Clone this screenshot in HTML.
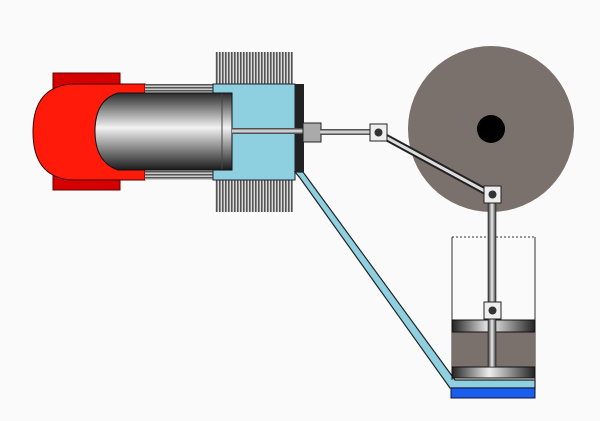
<!DOCTYPE html>
<html><head><style>html,body{margin:0;padding:0;background:#fafafa}svg{display:block}</style></head>
<body>
<svg width="600" height="421" viewBox="0 0 600 421" xmlns="http://www.w3.org/2000/svg">
<defs>
<linearGradient id="cyl" x1="0" y1="0" x2="0" y2="1">
<stop offset="0" stop-color="#2a2a2a"/><stop offset="0.45" stop-color="#f2f2f2"/><stop offset="1" stop-color="#1a1a1a"/>
</linearGradient>
<linearGradient id="disc" x1="0" y1="0" x2="1" y2="0">
<stop offset="0" stop-color="#222"/><stop offset="0.45" stop-color="#eee"/><stop offset="1" stop-color="#222"/>
</linearGradient>
<linearGradient id="rodv" x1="0" y1="0" x2="1" y2="0">
<stop offset="0" stop-color="#333"/><stop offset="0.5" stop-color="#eee"/><stop offset="1" stop-color="#333"/>
</linearGradient>
<linearGradient id="rodh" x1="0" y1="0" x2="0" y2="1">
<stop offset="0" stop-color="#333"/><stop offset="0.5" stop-color="#eee"/><stop offset="1" stop-color="#333"/>
</linearGradient>
<pattern id="fin" width="3" height="10" patternUnits="userSpaceOnUse">
<rect width="3" height="10" fill="#ddd"/><rect width="1.6" height="10" fill="#555"/>
</pattern>
<pattern id="strip" width="10" height="3" patternUnits="userSpaceOnUse">
<rect width="10" height="3" fill="#ccc"/><rect width="10" height="1.5" fill="#555"/>
</pattern>
</defs>
<!-- fins -->
<rect x="215" y="52" width="78" height="33" fill="url(#fin)"/>
<rect x="215" y="180" width="78" height="32" fill="url(#fin)"/>
<!-- red flange -->
<rect x="53" y="73" width="67" height="117" fill="#d40000" stroke="#600" stroke-width="1"/>
<!-- hot side body -->
<path d="M145,84 L70,84 Q33,88 33,132 Q33,176 70,180 L145,180 Z" fill="#ff1a0a" stroke="#400" stroke-width="1"/>
<!-- strip between -->
<rect x="145" y="84" width="68" height="96" fill="url(#strip)"/>
<!-- cold side -->
<rect x="213" y="84" width="82" height="96" fill="#8ecfe0" stroke="#223" stroke-width="1"/>
<!-- pipe -->
<path d="M295,172 L303,172 L455,380 L535,380 L535,388 L450,388 L300,178 Z" fill="#8ecfe0" stroke="#222" stroke-width="1.2"/>
<rect x="295" y="84" width="9" height="88" fill="#222"/>
<!-- displacer piston -->
<path d="M232,93 L118,93 Q95,100 95,131 Q95,162 118,170 L232,170 Z" fill="url(#cyl)" stroke="#111" stroke-width="1"/>
<line x1="222" y1="94" x2="222" y2="169" stroke="#444" stroke-width="1"/>
<!-- rod -->
<rect x="232" y="128" width="73" height="6" fill="url(#rodh)"/>
<rect x="303" y="123" width="18" height="19" fill="#aaa" stroke="#222"/>
<rect x="320" y="129" width="58" height="6" fill="url(#rodh)"/>
<!-- flywheel -->
<circle cx="491" cy="129" r="83" fill="#7a706c"/>
<circle cx="491" cy="129" r="14" fill="#000"/>
<!-- connecting rod -->
<line x1="378" y1="133" x2="492" y2="195" stroke="#222" stroke-width="7"/>
<line x1="378" y1="133" x2="492" y2="195" stroke="#ddd" stroke-width="3"/>
<!-- power cylinder -->
<line x1="452" y1="237" x2="452" y2="380" stroke="#333" stroke-width="1"/>
<line x1="535" y1="237" x2="535" y2="380" stroke="#333" stroke-width="1"/>
<line x1="452" y1="237" x2="535" y2="237" stroke="#333" stroke-width="1" stroke-dasharray="2,2"/>
<rect x="452" y="320" width="83" height="58" fill="#7a706c"/>
<rect x="452" y="320" width="83" height="12" fill="url(#disc)" stroke="#111"/>
<rect x="452" y="367" width="83" height="11" fill="url(#disc)" stroke="#111"/>
<rect x="488" y="195" width="8" height="172" fill="url(#rodv)" stroke="#222" stroke-width="0.6"/>
<rect x="451" y="388" width="84" height="10" fill="#1a5ef0" stroke="#113" stroke-width="1"/>
<!-- pivots -->
<rect x="370" y="124" width="17" height="17" fill="#eee" stroke="#222"/>
<circle cx="378.5" cy="132.5" r="4" fill="#333"/>
<rect x="484" y="186" width="17" height="17" fill="#eee" stroke="#222"/>
<circle cx="492.5" cy="194.5" r="4" fill="#333"/>
<rect x="484" y="302" width="17" height="17" fill="#eee" stroke="#222"/>
<circle cx="492.5" cy="310.5" r="4" fill="#333"/>
</svg>
</body></html>
